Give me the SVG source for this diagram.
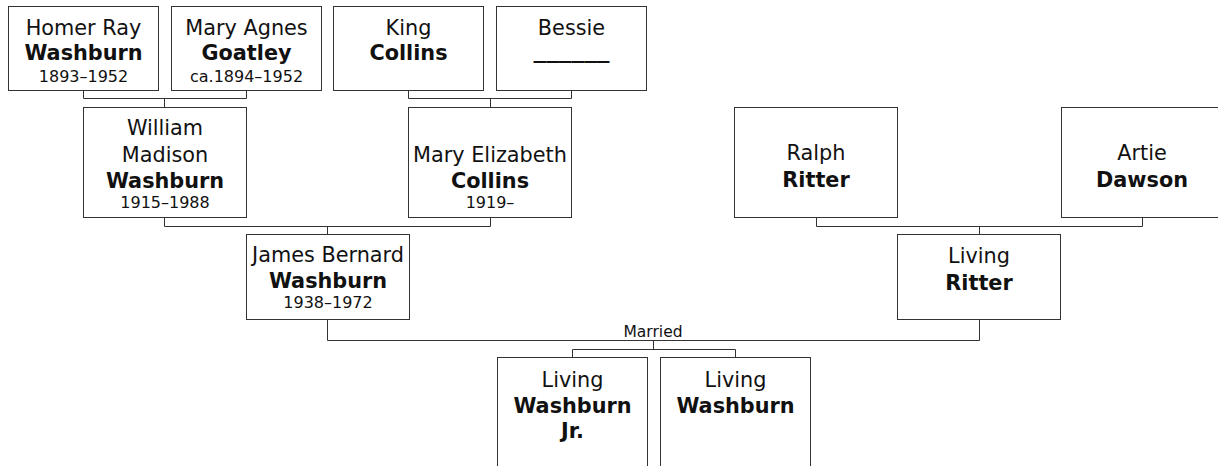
<svg xmlns="http://www.w3.org/2000/svg" width="1218" height="466" viewBox="0 0 1218 466">
<style>
.box{fill:#fff;stroke:#333;stroke-width:1}
.ln{fill:none;stroke:#333;stroke-width:1}
text{font-family:"DejaVu Sans","Verdana",sans-serif;fill:#111;text-anchor:middle}
.n{font-size:20.8px}
.b{font-size:20.8px;font-weight:bold}
.d{font-size:16px}
.m{font-size:15.5px}
</style>
<rect width="1218" height="466" fill="#fff"/>
<g id="connectors">
<path class="ln" d="M83.5,90 V98.5 H246.5 V90 M164.5,98.5 V107"/>
<path class="ln" d="M408.5,90 V98.5 H571.5 V90 M490.5,98.5 V107"/>
<path class="ln" d="M164.5,217 V226.5 H490.5 V217 M327.5,226.5 V234"/>
<path class="ln" d="M816.5,217 V226.5 H1142.5 V217 M979.5,226.5 V234"/>
<path class="ln" d="M327.5,319 V340.5 H979.5 V319 M653.5,340.5 V349.5 M572.5,357 V349.5 H735.5 V357"/>
<text class="m" x="653" y="337">Married</text>
</g>
<g id="homer">
<rect class="box" x="8.5" y="6.5" width="150" height="84"/>
<text class="n" x="83.5" y="35">Homer Ray</text>
<text class="b" x="83.5" y="60">Washburn</text>
<text class="d" x="83.5" y="82">1893–1952</text>
</g>
<g id="mary-agnes">
<rect class="box" x="171.5" y="6.5" width="150" height="84"/>
<text class="n" x="246.5" y="35">Mary Agnes</text>
<text class="b" x="246.5" y="60">Goatley</text>
<text class="d" x="246.5" y="82">ca.1894–1952</text>
</g>
<g id="king">
<rect class="box" x="333.5" y="6.5" width="150" height="84"/>
<text class="n" x="408.5" y="35">King</text>
<text class="b" x="408.5" y="60">Collins</text>
</g>
<g id="bessie">
<rect class="box" x="496.5" y="6.5" width="150" height="84"/>
<text class="n" x="571.5" y="35">Bessie</text>
<text class="b" x="571.5" y="58" textLength="76" lengthAdjust="spacingAndGlyphs">______</text>
</g>
<g id="william">
<rect class="box" x="83.5" y="107.5" width="163" height="110"/>
<text class="n" x="165" y="135">William</text>
<text class="n" x="165" y="162">Madison</text>
<text class="b" x="165" y="188">Washburn</text>
<text class="d" x="165" y="208">1915–1988</text>
</g>
<g id="mary-elizabeth">
<rect class="box" x="408.5" y="107.5" width="163" height="110"/>
<text class="n" x="490" y="162">Mary Elizabeth</text>
<text class="b" x="490" y="188">Collins</text>
<text class="d" x="490" y="208">1919–</text>
</g>
<g id="ralph">
<rect class="box" x="734.5" y="107.5" width="163" height="110"/>
<text class="n" x="816" y="160">Ralph</text>
<text class="b" x="816" y="187">Ritter</text>
</g>
<g id="artie">
<rect class="box" x="1061.5" y="107.5" width="163" height="110"/>
<text class="n" x="1142" y="160">Artie</text>
<text class="b" x="1142" y="187">Dawson</text>
</g>
<g id="james">
<rect class="box" x="246.5" y="234.5" width="163" height="85"/>
<text class="n" x="328" y="262">James Bernard</text>
<text class="b" x="328" y="288">Washburn</text>
<text class="d" x="328" y="308">1938–1972</text>
</g>
<g id="living-ritter">
<rect class="box" x="897.5" y="234.5" width="163" height="85"/>
<text class="n" x="979" y="263">Living</text>
<text class="b" x="979" y="290">Ritter</text>
</g>
<g id="living-washburn-jr">
<rect class="box" x="497.5" y="357.5" width="150" height="120"/>
<text class="n" x="572.5" y="387">Living</text>
<text class="b" x="572.5" y="413">Washburn</text>
<text class="b" x="572.5" y="438">Jr.</text>
</g>
<g id="living-washburn">
<rect class="box" x="660.5" y="357.5" width="150" height="120"/>
<text class="n" x="735.5" y="387">Living</text>
<text class="b" x="735.5" y="413">Washburn</text>
</g>
</svg>
